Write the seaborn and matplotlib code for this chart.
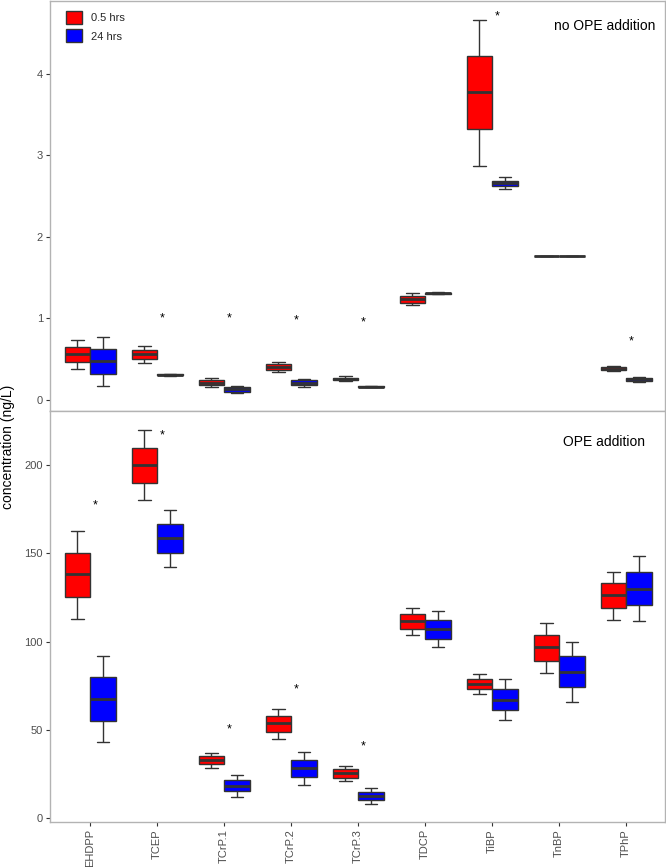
import pandas as pd
import seaborn as sns
import matplotlib.pyplot as plt
import numpy as np

# compounds on the x axis
compounds = ['EHDPP', 'TCEP', 'TCrP.1', 'TCrP.2', 'TCrP.3', 'TDCP', 'TiBP', 'TnBP', 'TPhP']
times = ['0.5 hrs', '24 hrs']

# five-number summaries (min, q1, median, q3, max)
no_ope_05 = [
    [0.38, 0.47, 0.56, 0.645, 0.73],
    [0.45, 0.50, 0.56, 0.61, 0.66],
    [0.16, 0.18, 0.21, 0.245, 0.27],
    [0.34, 0.37, 0.405, 0.44, 0.47],
    [0.23, 0.24, 0.26, 0.275, 0.29],
    [1.16, 1.19, 1.235, 1.277, 1.31],
    [2.87, 3.32, 3.77, 4.22, 4.66],
    [1.76, 1.76, 1.76, 1.76, 1.76],
    [0.35, 0.365, 0.385, 0.405, 0.42],
]
no_ope_24 = [
    [0.175, 0.32, 0.48, 0.62, 0.77],
    [0.30, 0.305, 0.31, 0.315, 0.32],
    [0.08, 0.10, 0.13, 0.155, 0.17],
    [0.16, 0.18, 0.21, 0.245, 0.26],
    [0.155, 0.16, 0.165, 0.17, 0.175],
    [1.30, 1.305, 1.31, 1.315, 1.32],
    [2.59, 2.62, 2.655, 2.69, 2.73],
    [1.76, 1.76, 1.76, 1.76, 1.76],
    [0.22, 0.235, 0.255, 0.275, 0.285],
]
ope_05 = [
    [112.6, 125.1, 138.1, 150.4, 162.8],
    [180.3, 190.1, 200.1, 209.9, 220.0],
    [28.3, 30.4, 32.7, 35.1, 37.0],
    [45.0, 48.9, 53.8, 57.8, 61.6],
    [21.1, 22.9, 25.3, 27.6, 29.5],
    [103.5, 107.0, 111.4, 115.5, 118.8],
    [70.3, 72.9, 76.1, 78.6, 81.5],
    [82.4, 89.2, 97.0, 103.7, 110.7],
    [112.3, 119.2, 126.2, 133.0, 139.6],
]
ope_24 = [
    [42.9, 55.0, 67.5, 79.8, 91.8],
    [142.5, 150.4, 158.7, 166.8, 174.7],
    [12.1, 15.1, 18.3, 21.7, 24.4],
    [18.7, 23.2, 28.5, 32.9, 37.6],
    [8.0, 10.0, 12.5, 14.9, 16.8],
    [97.0, 101.6, 107.0, 112.2, 117.1],
    [55.3, 61.0, 67.1, 72.9, 78.6],
    [65.9, 74.4, 82.9, 91.7, 100.0],
    [111.4, 120.6, 130.0, 139.5, 148.6],
]

# significance stars: compound and height
star_top_cmp = ['TCEP', 'TCrP.1', 'TCrP.2', 'TCrP.3', 'TiBP', 'TPhP']
star_top_y = [1.0, 1.0, 0.97, 0.95, 4.7, 0.72]
star_bot_cmp = ['EHDPP', 'TCEP', 'TCrP.1', 'TCrP.2', 'TCrP.3']
star_bot_y = [177.0, 216.6, 50.2, 72.6, 40.4]


def to_long(s05, s24):
    rows = []
    for i, c in enumerate(compounds):
        for t, stats in zip(times, [s05[i], s24[i]]):
            for v in stats:
                rows.append({'compound': c, 'time': t, 'value': v})
    return pd.DataFrame(rows)


df_top = to_long(no_ope_05, no_ope_24)
df_bot = to_long(ope_05, ope_24)

sns.set_style('white')
plt.rcParams['font.family'] = ['Liberation Sans', 'DejaVu Sans']

fig = plt.figure(figsize=(6.66, 8.67), dpi=100)
ax1 = fig.add_axes([50 / 666, 1 - 411 / 867, 615 / 666, 410 / 867])
ax2 = fig.add_axes([50 / 666, 1 - 822 / 867, 615 / 666, 411 / 867], sharex=ax1)

pal = {'0.5 hrs': '#ff0000', '24 hrs': '#0000ff'}
box_kw = dict(x='compound', y='value', hue='time', order=compounds, hue_order=times,
              palette=pal, width=0.76, gap=0, linecolor='#333333', linewidth=1.0,
              showfliers=False, whis=1.5, saturation=1,
              medianprops={'linewidth': 2.0, 'color': '#333333'})

sns.boxplot(data=df_top, ax=ax1, **box_kw)
sns.boxplot(data=df_bot, ax=ax2, legend=False, **box_kw)

ax1.set_ylim(-0.135, 4.89)
ax2.set_ylim(-2.3, 230.7)
ax1.set_yticks([0, 1, 2, 3, 4])
ax2.set_yticks([0, 50, 100, 150, 200])
ax1.set_xlim(-0.6, 8.58)

for ax in (ax1, ax2):
    ax.set_xlabel('')
    ax.set_ylabel('')
    for sp in ax.spines.values():
        sp.set_color('#b3b3b3')
        sp.set_linewidth(1.0)
    ax.tick_params(axis='both', which='both', length=3, width=0.8, color='#333333',
                   labelcolor='#4d4d4d', labelsize=8, direction='out', pad=2,
                   bottom=True, left=True)

ax1.tick_params(axis='x', labelbottom=False)
ax2.tick_params(axis='x', labelrotation=90)

xpos = {c: i for i, c in enumerate(compounds)}
for c, y in zip(star_top_cmp, star_top_y):
    ax1.text(xpos[c] + 0.07, y, '*', ha='center', va='center', fontsize=9, color='black')
for c, y in zip(star_bot_cmp, star_bot_y):
    ax2.text(xpos[c] + 0.07, y, '*', ha='center', va='center', fontsize=9, color='black')

ax1.text(0.985, 0.94, 'no OPE addition', transform=ax1.transAxes, ha='right', va='center',
         fontsize=10, color='black')
ax2.text(0.967, 0.925, 'OPE addition', transform=ax2.transAxes, ha='right', va='center',
         fontsize=10, color='black')

sns.move_legend(ax1, 'upper left', bbox_to_anchor=(0.01, 1.0), frameon=False, title=None,
                fontsize=8, handlelength=1.4, handleheight=1.4, labelspacing=0.5)

fig.text(0.012, 1 - 447 / 867, 'concentration (ng/L)', rotation=90, ha='center', va='center',
         fontsize=10, color='black')

fig.savefig('out.png', dpi=100)
